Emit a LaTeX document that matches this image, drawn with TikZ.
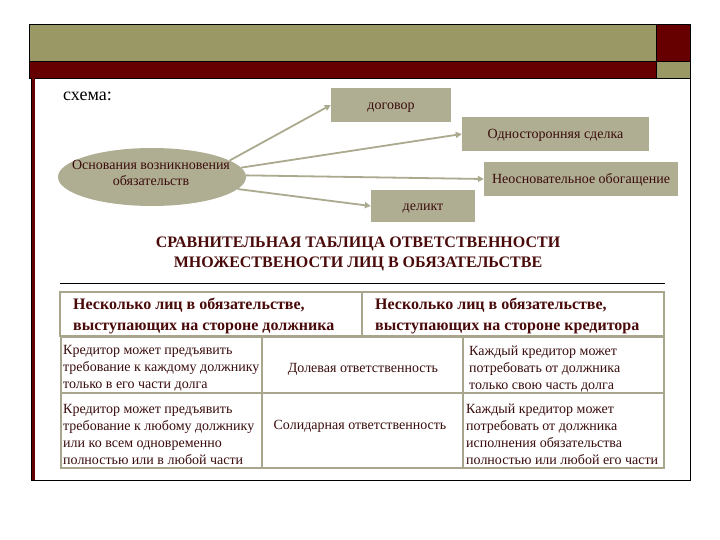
\documentclass[tikz,border=0pt]{standalone}
\usepackage{fontspec}
\setmainfont{Liberation Serif}
\usetikzlibrary{shapes.geometric,arrows.meta}
\definecolor{olivec}{HTML}{9A9966}
\definecolor{dred}{HTML}{660000}
\definecolor{boxc}{HTML}{B0AE92}
\definecolor{arrc}{HTML}{ABA98E}
\definecolor{tabc}{HTML}{A8A68C}
\definecolor{txt}{HTML}{3A0C0C}
\definecolor{ttl}{HTML}{4A0A0A}
\begin{document}
\begin{tikzpicture}[x=1pt,y=-1pt,
  box/.style={fill=boxc, draw=none, inner sep=0pt, text height=10pt, text depth=0pt, text=txt, font=\fontsize{14}{16}\selectfont},
  arr/.style={draw=arrc, line width=1.8pt, -{Triangle[length=6pt,width=6pt]}},
  cell/.style={inner sep=0pt, text=txt, align=left, font=\fontsize{14}{17}\selectfont},
  head/.style={inner sep=0pt, text=ttl, align=left, font=\fontsize{16}{21}\selectfont\bfseries},
  tline/.style={draw=tabc, line width=2pt}]
\useasboundingbox (0,0) rectangle (720,540);
\fill[white] (0,0) rectangle (720,540);
% frame
\fill[olivec] (29,24) rectangle (656,61);
\fill[dred] (656,24) rectangle (690,61);
\fill[dred] (29,61) rectangle (656,78);
\fill[olivec] (656,61) rectangle (690,78);
\draw[black, line width=0.8pt] (29,24) rectangle (690,78);
\draw[black, line width=0.6pt] (29,61) -- (690,61) (656,24) -- (656,78);
\fill[dred] (31,78) rectangle (35,480);
\draw[black, line width=0.8pt] (690,78) -- (690,480) -- (31,480) -- (31,78);
% scheme
\node[anchor=west, inner sep=0pt, text=black, font=\fontsize{18}{20}\selectfont] (sch) at (63,96) {схема:};
\node[ellipse, fill=boxc, minimum width=188pt, minimum height=58pt, inner sep=0pt] (e) at (152,177) {};
\node[align=center, inner sep=0pt, text=txt, font=\fontsize{14}{16}\selectfont] (et) at (151,173) {Основания возникновения\\обязательств};
\node[box, minimum width=120pt, minimum height=34pt] (dog) at (391,105) {договор};
\node[box, minimum width=187pt, minimum height=34pt] (odn) at (555.5,134) {Односторонняя сделка};
\node[box, minimum width=194pt, minimum height=34pt] (neo) at (581,179) {Неосновательное обогащение};
\node[box, minimum width=104pt, minimum height=32pt] (del) at (423,206) {деликт};
\draw[arr] (e.12) -- (dog.west);
\draw[arr] (e.6) -- (odn.west);
\draw[arr] (e.1) -- (neo.west);
\draw[arr] (e.-8) -- (del.west);
% title
\node[align=center, inner sep=0pt, text=ttl, font=\fontsize{16}{20}\selectfont\bfseries] (title) at (358,254) {СРАВНИТЕЛЬНАЯ ТАБЛИЦА ОТВЕТСТВЕННОСТИ\\МНОЖЕСТВЕНОСТИ ЛИЦ В ОБЯЗАТЕЛЬСТВЕ};
\draw[black, line width=0.8pt] (60,283) -- (665,283);
% header table
\draw[tline] (60,292) rectangle (664,336);
\draw[tline] (362,292) -- (362,336);
\node[head, anchor=west] (h1) at (73,316) {Несколько лиц в обязательстве,\\выступающих на стороне должника};
\node[head, anchor=west] (h2) at (375,316) {Несколько лиц в обязательстве,\\выступающих на стороне кредитора};
% main table
\draw[tline] (61,337) rectangle (664,468);
\draw[tline] (61,393) -- (664,393);
\draw[tline] (262,337) -- (262,468);
\draw[tline] (463,337) -- (463,468);
\node[cell, anchor=west] (c11) at (63,368) {Кредитор может предъявить\\требование к каждому должнику\\только в его части долга};
\node[cell] (c12) at (363,369) {Долевая ответственность};
\node[cell, anchor=west] (c13) at (469,369) {Каждый кредитор может\\потребовать от должника\\только свою часть долга};
\node[cell, anchor=west] (c21) at (63,434) {Кредитор может предъявить\\требование к любому должнику\\или ко всем одновременно\\полностью или в любой части};
\node[cell] (c22) at (360,426) {Солидарная ответственность};
\node[cell, anchor=west] (c23) at (466,434) {Каждый кредитор может\\потребовать от должника\\исполнения обязательства\\полностью или любой его части};
\end{tikzpicture}
\end{document}
